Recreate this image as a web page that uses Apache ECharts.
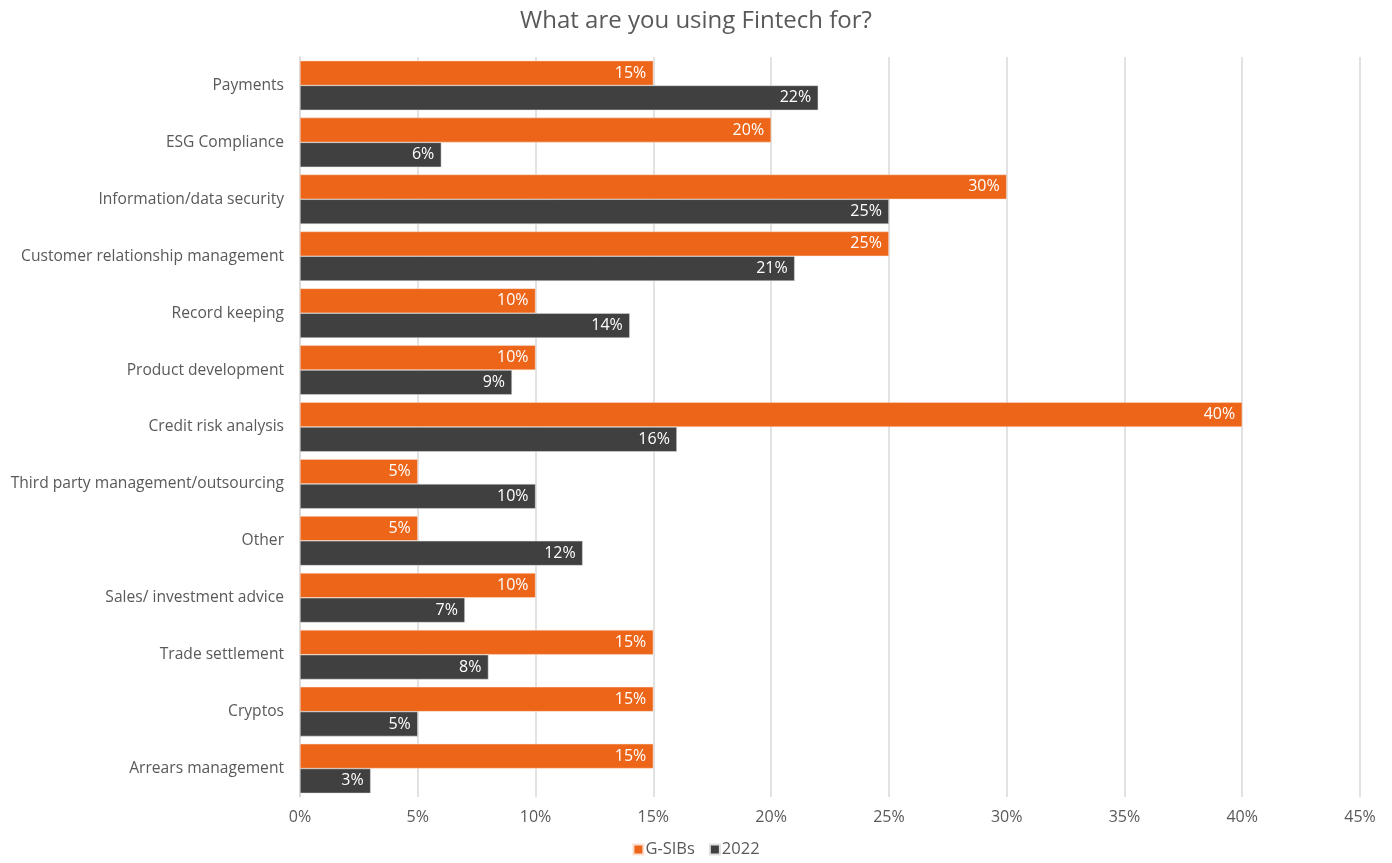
<!DOCTYPE html>
<html><head><meta charset="utf-8">
<script src="https://cdn.jsdelivr.net/npm/echarts@6/dist/echarts.min.js"></script>
<style>html,body{margin:0;padding:0;background:#fff}#c{width:1392px;height:863px}</style>
</head><body><div id="c"></div>
<script>
const categories = ["Payments","ESG Compliance","Information/data security","Customer relationship management","Record keeping","Product development","Credit risk analysis","Third party management/outsourcing","Other","Sales/ investment advice","Trade settlement","Cryptos","Arrears management"];
const gsibs = [15,20,30,25,10,10,40,5,5,10,15,15,15];
const y2022 = [22,6,25,21,14,9,16,10,12,7,8,5,3];
const xTicks = [0,5,10,15,20,25,30,35,40,45];
const FONT = "'Open Sans', sans-serif";
const chart = echarts.init(document.getElementById('c'));
const lbl = {show:true, position:'insideRight', color:'#fff', fontSize:16, fontFamily:FONT, formatter: p => p.value + '%', distance:7};
chart.setOption({
  animation:false,
  title:{text:'What are you using Fintech for?', left:'center', top:4, textStyle:{fontFamily:FONT, fontSize:24, fontWeight:'normal', color:'#595959'}},
  legend:{bottom:0, left:'center', itemWidth:10, itemHeight:10, itemGap:14, icon:'rect', textStyle:{fontFamily:FONT, fontSize:16.5, color:'#595959', padding:[0,0,0,-3]}, data:['G-SIBs','2022']},
  grid:{left:300, right:32, top:57, bottom:66, containLabel:false},
  xAxis:{type:'value', min:xTicks[0], max:xTicks[xTicks.length-1], interval:5,
    axisLine:{show:false}, axisTick:{show:false},
    splitLine:{lineStyle:{color:'#d9d9d9', width:1.5}},
    axisLabel:{formatter:'{value}%', fontFamily:FONT, fontSize:16, color:'#595959', margin:12}},
  yAxis:{type:'category', data:categories, inverse:true,
    axisLine:{show:true, lineStyle:{color:'#d9d9d9', width:1.5}}, axisTick:{show:false},
    axisLabel:{fontFamily:FONT, fontSize:15.6, color:'#595959', margin:16}},
  series:[
    {name:'G-SIBs', type:'bar', data:gsibs, barGap:'0%', barCategoryGap:'13%', itemStyle:{color:'#EC6519', borderColor:'#fbe0d1', borderWidth:0.5}, label:lbl},
    {name:'2022', type:'bar', data:y2022, itemStyle:{color:'#404040', borderColor:'#e0e0e0', borderWidth:0.5}, label:lbl}
  ]
});
</script></body></html>
